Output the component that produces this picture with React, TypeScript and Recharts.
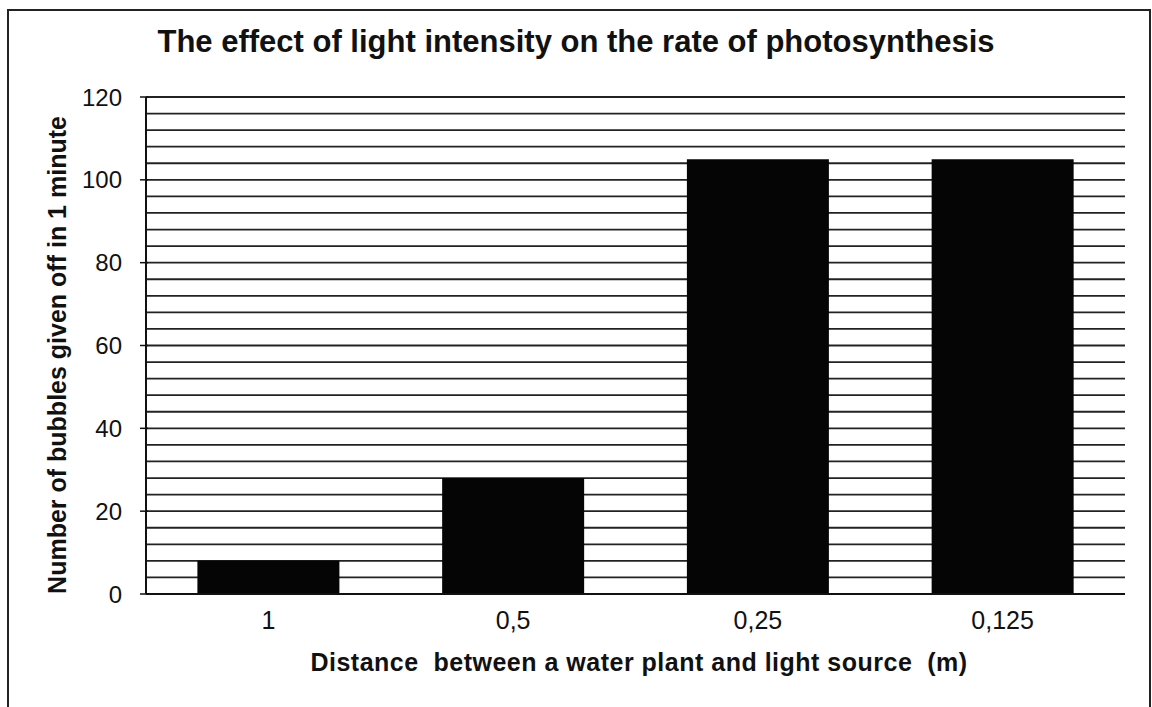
import { Bar, BarChart, CartesianGrid, XAxis, YAxis } from 'recharts';

const distances = ['1', '0,5', '0,25', '0,125'];
const bubbleCounts = [8, 28, 105, 105];
const gridTicks = [0, 4, 8, 12, 16, 20, 24, 28, 32, 36, 40, 44, 48, 52, 56, 60, 64, 68, 72, 76, 80, 84, 88, 92, 96, 100, 104, 108, 112, 116, 120];
const labelTicks = [0, 20, 40, 60, 80, 100, 120];

const chartTitle = 'The effect of light intensity on the rate of photosynthesis';
const yTitle = 'Number of bubbles given off in 1 minute';
const xTitle = 'Distance\u00a0 between a water plant and light source\u00a0 (m)';

const data = distances.map((distance, i) => ({ distance, bubbles: bubbleCounts[i] }));

const FONT = '"Liberation Sans", Arial, sans-serif';

function YTick(props: any) {
  const { x, y, payload } = props;
  if (!labelTicks.includes(payload.value)) return null;
  return (
    <g>
      <line x1={x + 2} x2={x + 10} y1={y} y2={y} stroke="#111" strokeWidth={1.5} />
      <text x={x - 16} y={y} dy="0.36em" textAnchor="end" fontSize={24} fill="#111" fontFamily={FONT}>
        {payload.value}
      </text>
    </g>
  );
}

export default function App() {
  return (
    <div
      style={{
        position: 'absolute',
        left: 0,
        top: 0,
        width: 1152,
        height: 707,
        overflow: 'hidden',
        background: '#fff',
        fontFamily: FONT,
        color: '#111',
      }}
    >
      <div
        style={{
          position: 'absolute',
          left: 7,
          top: 9,
          width: 1144,
          height: 720,
          border: '2px solid #222',
          boxSizing: 'border-box',
        }}
      />
      <div
        style={{
          position: 'absolute',
          left: 0,
          width: 1152,
          top: 24,
          textAlign: 'center',
          fontSize: 31,
          fontWeight: 700,
          lineHeight: '36px',
        }}
      >
        {chartTitle}
      </div>
      <div
        style={{
          position: 'absolute',
          left: 57,
          top: 355,
          transform: 'translate(-50%, -50%) rotate(-90deg)',
          whiteSpace: 'nowrap',
          fontSize: 25,
          fontWeight: 700,
          lineHeight: '28px',
        }}
      >
        {yTitle}
      </div>
      <div
        style={{
          position: 'absolute',
          left: 639,
          top: 662,
          transform: 'translate(-50%, -50%)',
          whiteSpace: 'nowrap',
          fontSize: 25,
          fontWeight: 700,
          letterSpacing: 0.5,
          lineHeight: '28px',
        }}
      >
        {xTitle}
      </div>
      <div style={{ position: 'absolute', left: 0, top: 0 }}>
        <BarChart
          width={1152}
          height={707}
          data={data}
          margin={{ top: 97, right: 27, left: 46, bottom: 83 }}
          barCategoryGap="21%"
        >
          <CartesianGrid vertical={false} stroke="#222" strokeWidth={1.8} />
          <XAxis
            dataKey="distance"
            height={30}
            tickLine={false}
            axisLine={{ stroke: '#111', strokeWidth: 2 }}
            tickMargin={11}
            tick={{ fontSize: 25, fill: '#111', fontFamily: FONT }}
          />
          <YAxis
            width={100}
            domain={[0, 120]}
            ticks={gridTicks}
            interval={0}
            tickLine={false}
            axisLine={{ stroke: '#111', strokeWidth: 2 }}
            tick={<YTick />}
          />
          <Bar dataKey="bubbles" fill="#050505" isAnimationActive={false} />
        </BarChart>
      </div>
    </div>
  );
}
